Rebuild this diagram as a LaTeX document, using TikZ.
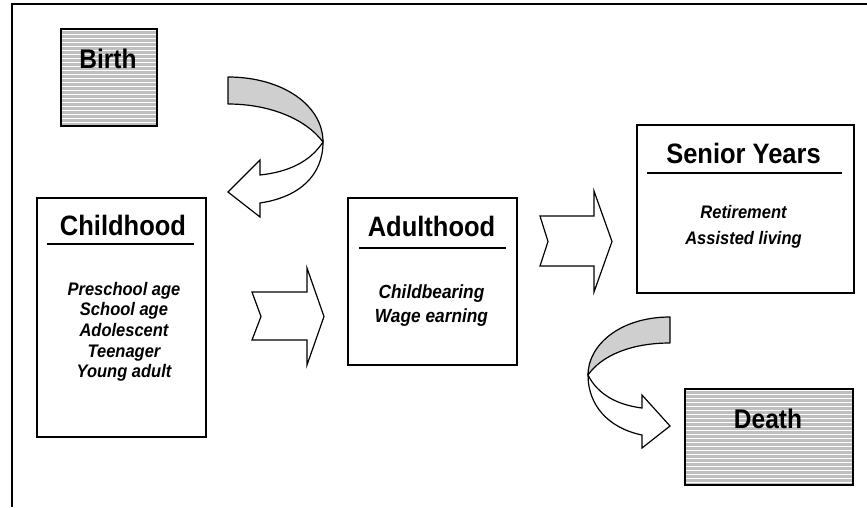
\documentclass[tikz,border=0pt]{standalone}
\usepackage{fontspec}
\usepackage{graphicx}
\setmainfont{Liberation Sans}
\definecolor{bandgray}{HTML}{CFCFCF}
\definecolor{stripegray}{HTML}{BFBFBF}
\newcommand{\tallt}[1]{\scalebox{1}[1.1]{#1}}
\begin{document}
\begin{tikzpicture}[x=1pt,y=-1pt,
  box/.style={draw, line width=1.7pt, inner sep=0pt, fill=white, anchor=north west},
  striped/.style={draw, line width=1.7pt, inner sep=0pt, fill=stripegray, anchor=north west,
    path picture={\foreach \k in {0,...,30}{\draw[white, line width=1pt]
      ([yshift=-\k*4pt-2pt]path picture bounding box.north west) --
      ([yshift=-\k*4pt-2pt]path picture bounding box.north east);}}},
  title/.style={font=\fontsize{25.5}{30}\selectfont\bfseries, anchor=base, inner sep=0pt},
  endtitle/.style={font=\fontsize{24.5}{29}\selectfont\bfseries, anchor=base, inner sep=0pt},
  item/.style={font=\fontsize{16.5}{20}\selectfont\bfseries\itshape, anchor=base, inner sep=0pt},
  bigitem/.style={font=\fontsize{17.3}{20}\selectfont\bfseries\itshape, anchor=base, inner sep=0pt},
  uline/.style={line width=1.7pt},
  frame/.style={line width=1.6pt},
  arrowshape/.style={draw, line width=1.2pt, fill=white, line join=miter},
  backband/.style={draw, line width=1.2pt, fill=bandgray, line join=round}]
\useasboundingbox (0,0) rectangle (867,507);
\draw[frame] (12,507) -- (12,4) -- (867,4);

% boxes
\node[striped, minimum width=96pt, minimum height=97pt] (birth) at (60,28) {};
\node[box, minimum width=169pt, minimum height=239pt] (child) at (36,197) {};
\node[box, minimum width=169pt, minimum height=167pt] (adult) at (347,197) {};
\node[box, minimum width=217pt, minimum height=168pt] (senior) at (636,124) {};
\node[striped, minimum width=168pt, minimum height=96pt] (death) at (684,388) {};

% titles
\node[endtitle] (birthT) at (108,68) {\tallt{Birth}};
\node[endtitle] (deathT) at (768,428) {\tallt{Death}};
\node[title] (childT) at (123,235) {\tallt{Childhood}};
\node[title] (adultT) at (431.5,236.5) {\tallt{Adulthood}};
\node[title] (seniorT) at (743.5,163) {\tallt{Senior Years}};
\draw[uline] (47,244) -- (194,244);
\draw[uline] (359,248) -- (506,248);
\draw[uline] (647,173) -- (842,173);

% items
\node[item] (c1) at (124,295) {\tallt{Preschool age}};
\node[item] (c2) at (124,315.7) {\tallt{School age}};
\node[item] (c3) at (124,336.4) {\tallt{Adolescent}};
\node[item] (c4) at (124,357.1) {\tallt{Teenager}};
\node[item] (c5) at (124,377.8) {\tallt{Young adult}};
\node[bigitem] (a1) at (431.5,298) {\tallt{Childbearing}};
\node[bigitem] (a2) at (431.5,322.5) {\tallt{Wage earning}};
\node[item] (s1) at (743.5,218) {\tallt{Retirement}};
\node[item] (s2) at (743.5,244) {\tallt{Assisted living}};

% straight notched arrows
\draw[arrowshape] (252,292) -- (307,292) -- (307,268) -- (324,316.5) -- (307,365)
  -- (307,340) -- (252,340) -- (261,316.5) -- cycle;
\draw[arrowshape] (540,216) -- (594,216) -- (594,191) -- (612,241.5) -- (594,292)
  -- (594,266) -- (540,266) -- (548,241.5) -- cycle;

% curved arrow Birth -> Childhood
\path[backband] (228,77) .. controls (282,77) and (323,105) .. (323,142)
  .. controls (305,118) and (268,104) .. (228,104) -- cycle;
\path[arrowshape] (323,142) .. controls (310,162) and (288,172) .. (260,175)
  -- (260,160) -- (228,192) -- (260,217) -- (260,203)
  .. controls (300,197) and (323,175) .. (323,142) -- cycle;

% curved arrow Senior -> Death
\path[backband] (670,317) .. controls (620,317) and (588,345) .. (588,375)
  .. controls (602,355) and (632,343) .. (670,343) -- cycle;
\path[arrowshape] (588,375) .. controls (598,395) and (618,405) .. (642,408)
  -- (642,395) -- (670,426) -- (642,448) -- (642,435)
  .. controls (608,428) and (588,405) .. (588,375) -- cycle;
\end{tikzpicture}
\end{document}
